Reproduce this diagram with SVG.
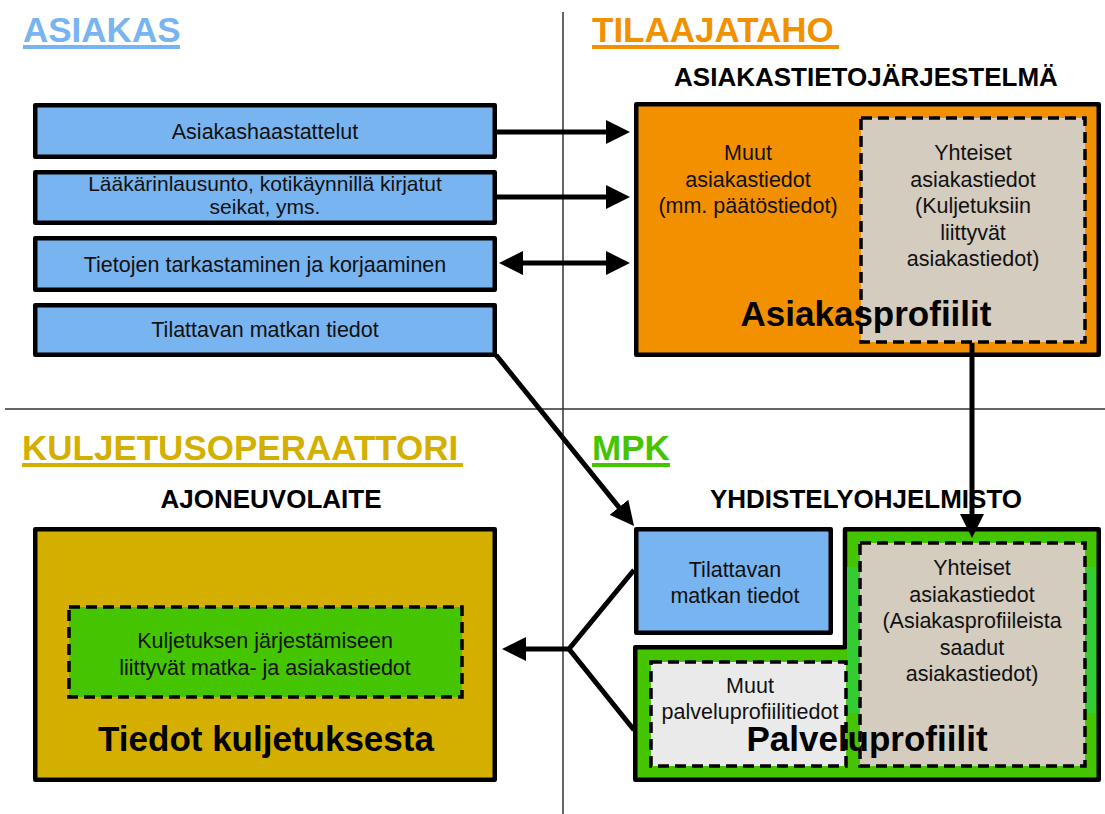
<svg xmlns="http://www.w3.org/2000/svg" width="1105" height="814" viewBox="0 0 1105 814">
<style>
  text { font-family: "Liberation Sans", Arial, sans-serif; }
  .t { font-size: 21.5px; fill: #111; text-anchor: middle; }
  .t2 { font-size: 21px; }
  .big { font-size: 35px; font-weight: bold; fill: #000; text-anchor: middle; }
  .sub { font-size: 26px; font-weight: bold; fill: #000; text-anchor: middle; }
  .title { font-size: 35px; font-weight: bold; }
  .box { stroke: #000; stroke-width: 4.5; stroke-linejoin: round; }
  .dash { stroke: #000; stroke-width: 3.5; stroke-dasharray: 11 6; }
  .blue { fill: #78B4F0; }
  .conn { stroke: #000; stroke-width: 5; fill: none; }
  .div { stroke: #333; stroke-width: 1.5; }
</style>
<defs>
  <marker id="ah" markerUnits="userSpaceOnUse" markerWidth="24" markerHeight="24" refX="12" refY="12" orient="auto-start-reverse" viewBox="0 0 24 24">
    <path d="M0,0 L24,12 L0,24 Z" fill="#000"/>
  </marker>
</defs>
<rect width="1105" height="814" fill="#fff"/>

<g id="dividers">
  <line class="div" x1="563" y1="12" x2="563" y2="814"/>
  <line class="div" x1="5" y1="409" x2="1105" y2="409"/>
</g>

<g id="titles">
  <text class="title" x="23" y="42" fill="#78B4F0">ASIAKAS</text>
  <rect x="23" y="45" width="157" height="4" fill="#78B4F0"/>
  <text class="title" x="592" y="42" fill="#F29100">TILAAJATAHO</text>
  <rect x="592" y="45" width="247" height="4" fill="#F29100"/>
  <text class="title" x="22" y="460" fill="#D4AF00">KULJETUSOPERAATTORI</text>
  <rect x="22" y="463" width="441" height="4" fill="#D4AF00"/>
  <text class="title" x="592" y="460" fill="#44C500">MPK</text>
  <rect x="592" y="463" width="78" height="4" fill="#44C500"/>
  <text class="sub" x="866" y="86">ASIAKASTIETOJÄRJESTELMÄ</text>
  <text class="sub" x="271" y="508">AJONEUVOLAITE</text>
  <text class="sub" x="866" y="508">YHDISTELYOHJELMISTO</text>
</g>

<g id="n-haastattelut">
  <rect class="box blue" x="35.25" y="105.25" width="459.5" height="51.5"/>
  <text class="t" x="265" y="139">Asiakashaastattelut</text>
</g>
<g id="n-laakarinlausunto">
  <rect class="box blue" x="35.25" y="172.25" width="459.5" height="50.5"/>
  <text class="t t2" x="265" y="191">Lääkärinlausunto, kotikäynnillä kirjatut</text>
  <text class="t t2" x="265" y="214">seikat, yms.</text>
</g>
<g id="n-tarkastaminen">
  <rect class="box blue" x="35.25" y="238.25" width="459.5" height="51.5"/>
  <text class="t" x="265" y="272">Tietojen tarkastaminen ja korjaaminen</text>
</g>
<g id="n-tilattava1">
  <rect class="box blue" x="35.25" y="305.25" width="459.5" height="49.5"/>
  <text class="t" x="265" y="337">Tilattavan matkan tiedot</text>
</g>

<g id="n-asiakasprofiilit">
  <rect class="box" x="636.25" y="104.25" width="462.5" height="250.5" fill="#F39000"/>
  <rect class="dash" x="861" y="118" width="224" height="224" fill="#D4CCBF"/>
  <text class="t" x="748" y="160">Muut</text>
  <text class="t" x="748" y="187">asiakastiedot</text>
  <text class="t" x="748" y="213">(mm. päätöstiedot)</text>
  <text class="t" x="973" y="160">Yhteiset</text>
  <text class="t" x="973" y="187">asiakastiedot</text>
  <text class="t" x="973" y="213">(Kuljetuksiin</text>
  <text class="t" x="973" y="240">liittyvät</text>
  <text class="t" x="973" y="266">asiakastiedot)</text>
  <text class="big" x="866" y="326">Asiakasprofiilit</text>
</g>

<g id="n-tilattava2">
  <rect class="box blue" x="636.25" y="529.25" width="194.5" height="103.5"/>
  <text class="t" x="735" y="577">Tilattavan</text>
  <text class="t" x="735" y="603">matkan tiedot</text>
</g>

<g id="n-palveluprofiilit">
  <path class="box" d="M845,529.25 H1098.75 V779.75 H635.25 V647.25 H845 Z" fill="#44C500"/>
  <rect x="847" y="567" width="12" height="146" fill="#33CC33"/>
  <rect x="1086" y="567" width="10" height="146" fill="#33CC33"/>
  <rect class="dash" x="651" y="662" width="195" height="104" fill="#EAEAEA"/>
  <rect class="dash" x="860" y="543" width="225" height="223" fill="#D4CCBF"/>
  <text class="t" x="972" y="575">Yhteiset</text>
  <text class="t" x="972" y="602">asiakastiedot</text>
  <text class="t" x="972" y="628">(Asiakasprofiileista</text>
  <text class="t" x="972" y="655">saadut</text>
  <text class="t" x="972" y="681">asiakastiedot)</text>
  <text class="t" x="750" y="693">Muut</text>
  <text class="t" x="750" y="719">palveluprofiilitiedot</text>
  <text class="big" x="867" y="751">Palveluprofiilit</text>
</g>

<g id="n-ajoneuvolaite">
  <rect class="box" x="35.25" y="529.25" width="459.5" height="250.5" fill="#D4AF00"/>
  <rect class="dash" x="69" y="607" width="393" height="90" fill="#44C500"/>
  <text class="t" x="265" y="648">Kuljetuksen järjestämiseen</text>
  <text class="t" x="265" y="675">liittyvät matka- ja asiakastiedot</text>
  <text class="big" x="266" y="751">Tiedot kuljetuksesta</text>
</g>

<g id="connectors">
  <line class="conn" x1="497" y1="132" x2="618" y2="132" marker-end="url(#ah)"/>
  <line class="conn" x1="497" y1="197" x2="618" y2="197" marker-end="url(#ah)"/>
  <line class="conn" x1="511" y1="263" x2="618" y2="263" marker-start="url(#ah)" marker-end="url(#ah)"/>
  <line class="conn" x1="496" y1="355" x2="626.5" y2="516.6" marker-end="url(#ah)"/>
  <line class="conn" x1="972" y1="343" x2="972" y2="526" marker-end="url(#ah)"/>
  <polyline class="conn" points="634,570 569,649 634,730" stroke-linejoin="miter"/>
  <line class="conn" x1="569" y1="649" x2="514" y2="649" marker-end="url(#ah)"/>
</g>
</svg>
